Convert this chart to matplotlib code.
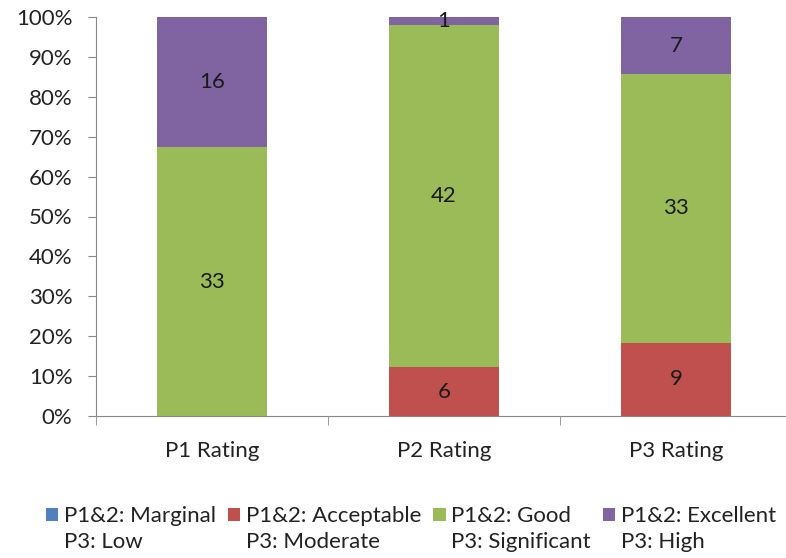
import matplotlib
matplotlib.use("Agg")
import matplotlib.pyplot as plt
import numpy as np

categories = ["P1 Rating", "P2 Rating", "P3 Rating"]
series_names = ["P1&2: Marginal\nP3: Low", "P1&2: Acceptable\nP3: Moderate",
                "P1&2: Good\nP3: Significant", "P1&2: Excellent\nP3: High"]
marginal = [0, 0, 0]
acceptable = [0, 6, 9]
good = [33, 42, 33]
excellent = [16, 1, 7]
colors = ["#4F81BD", "#C0504D", "#9BBB59", "#8064A2"]
yticklabels = ["0%", "10%", "20%", "30%", "40%", "50%", "60%", "70%", "80%", "90%", "100%"]

plt.rcParams['font.family'] = ['Lato', 'DejaVu Sans']

fig = plt.figure(figsize=(7.86, 5.58), dpi=100)
ax = fig.add_axes([96/786, 142/558, 696/786, 399/558])

data = np.array([marginal, acceptable, good, excellent], dtype=float)
totals = data.sum(axis=0)
pct = data / totals * 100
x = np.arange(len(categories))
bottom = np.zeros(len(categories))
for i in range(4):
    ax.bar(x, pct[i], bottom=bottom, width=0.475, color=colors[i], label=series_names[i])
    for j in range(len(categories)):
        if data[i, j] > 0:
            ax.text(x[j], bottom[j] + pct[i, j] / 2, f"{int(data[i, j])}",
                    ha="center", va="center", fontsize=16, color="#1a1a1a")
    bottom += pct[i]

ax.set_xlim(-0.5, 2.5)
ax.set_ylim(0, 100)
ax.set_yticks(np.arange(0, 101, 10))
ax.set_yticklabels(yticklabels, fontsize=16, color="#222222")
ax.set_xticks(x)
ax.set_xticklabels(categories, fontsize=16, color="#222222")
ax.tick_params(axis="x", length=0, pad=18)
ax.set_xticks([-0.5, 0.5, 1.5, 2.5], minor=True)
ax.tick_params(axis="x", which="minor", length=6.5, color="#888888", direction="out")
ax.tick_params(axis="y", length=6, color="#888888", direction="out", pad=11)
for s in ["top", "right"]:
    ax.spines[s].set_visible(False)
for s in ["left", "bottom"]:
    ax.spines[s].set_color("#888888")

leg = fig.legend(loc="upper left", bbox_to_anchor=(26/786, 1 - 486/558), ncol=4,
                 frameon=False, fontsize=16, handlelength=0.55, handleheight=0.55,
                 handletextpad=0.25, columnspacing=0.55, labelspacing=0.2)
for t in leg.get_texts():
    t.set_color("#222222")
    t.set_linespacing(1.35)
for p in leg.get_patches():
    p.set_y(p.get_y() + 10.5)
fig.savefig("out.png", dpi=100)
